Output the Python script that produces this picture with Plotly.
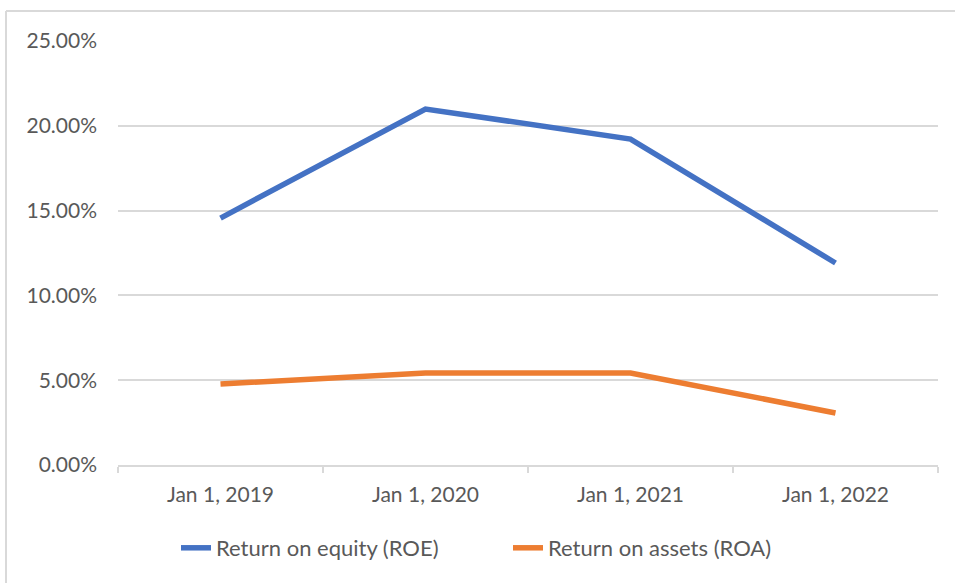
import plotly.graph_objects as go

years = ["Jan 1, 2019", "Jan 1, 2020", "Jan 1, 2021", "Jan 1, 2022"]
roe = [14.56, 20.99, 19.22, 11.91]
roa = [4.78, 5.42, 5.42, 3.07]
y_ticks = [0, 5, 10, 15, 20, 25]

W, H = 955, 583
L, R, T, B = 118, 17, 41, 118
pw, ph = W - L - R, H - T - B


def px_x(x):
    return (x - L) / pw


def px_y(y):
    return (H - B - y) / ph


fig = go.Figure()
fig.add_trace(go.Scatter(x=years, y=roe, mode="lines", name="Return on equity (ROE)",
                         line=dict(color="#4472C4", width=5.5)))
fig.add_trace(go.Scatter(x=years, y=roa, mode="lines", name="Return on assets (ROA)",
                         line=dict(color="#ED7D31", width=5.5)))

# outer chart border (cropped on right and bottom in the reference)
fig.add_shape(type="line", xref="paper", yref="paper",
              x0=px_x(6), x1=px_x(960), y0=px_y(11), y1=px_y(11),
              line=dict(color="#d9d9d9", width=2))
fig.add_shape(type="line", xref="paper", yref="paper",
              x0=px_x(6), x1=px_x(6), y0=px_y(11), y1=px_y(590),
              line=dict(color="#d9d9d9", width=2))

font = "Lato, Open Sans, sans-serif"
fig.update_layout(
    width=W, height=H,
    margin=dict(l=L, r=R, t=T, b=B),
    plot_bgcolor="white", paper_bgcolor="white",
    font=dict(family=font, size=21, color="#595959"),
    showlegend=True,
    legend=dict(orientation="h", x=px_x(176), xanchor="left", y=px_y(548), yanchor="middle",
                entrywidth=287, entrywidthmode="pixels",
                font=dict(size=22, color="#595959")),
    xaxis=dict(type="category", range=[-0.5, 3.5], showgrid=False,
               showline=True, linecolor="#d9d9d9", linewidth=2,
               ticks="outside", tickson="boundaries", ticklen=6, tickcolor="#d9d9d9",
               tickwidth=2, ticklabelstandoff=10),
    yaxis=dict(range=[0, 25], tickvals=y_ticks,
               ticktext=[f"{v:.2f}%" for v in y_ticks],
               showgrid=True, gridcolor="#d9d9d9", gridwidth=2,
               zeroline=False, showline=False, ticks="", ticklabelstandoff=20),
)

fig.write_html("out.html", config={"displayModeBar": False},
               post_script="document.body.style.margin='0';")
